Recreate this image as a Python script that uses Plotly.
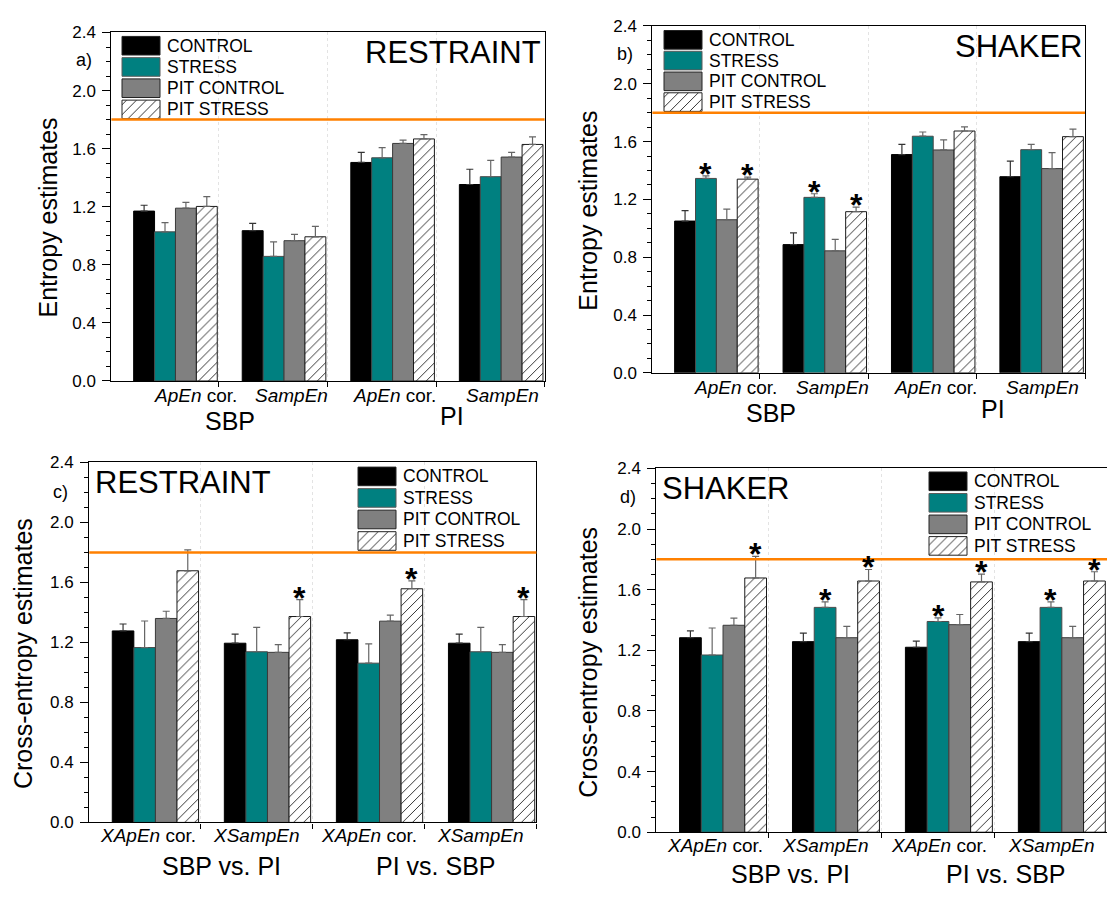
import plotly.graph_objects as go

W, H = 1107, 898
FONT = "Liberation Sans, Arial, sans-serif"

# ---------------- data ----------------
SERIES = ["CONTROL", "STRESS", "PIT CONTROL", "PIT STRESS"]
GROUPS = [1, 2, 3, 4]
ENTROPY_LABELS = ["<i>ApEn</i> cor.", "<i>SampEn</i>", "<i>ApEn</i> cor.", "<i>SampEn</i>"]
CROSS_LABELS = ["<i>XApEn</i> cor.", "<i>XSampEn</i>", "<i>XApEn</i> cor.", "<i>XSampEn</i>"]
ENTROPY_SIGNALS = ["SBP", "PI"]
CROSS_SIGNALS = ["SBP vs. PI", "PI vs. SBP"]
Y_TICKS = [0.0, 0.4, 0.8, 1.2, 1.6, 2.0, 2.4]
THRESHOLD = 1.8

# panel a) RESTRAINT, entropy
a_control = [1.17, 1.035, 1.505, 1.353]
a_control_err = [0.04, 0.05, 0.07, 0.105]
a_stress = [1.027, 0.858, 1.537, 1.407]
a_stress_err = [0.063, 0.10, 0.07, 0.112]
a_pit_control = [1.19, 0.966, 1.636, 1.542]
a_pit_control_err = [0.04, 0.043, 0.022, 0.033]
a_pit_stress = [1.202, 0.993, 1.667, 1.629]
a_pit_stress_err = [0.068, 0.072, 0.03, 0.052]
a_stars = []

# panel b) SHAKER, entropy
b_control = [1.05, 0.887, 1.51, 1.357]
b_control_err = [0.072, 0.081, 0.07, 0.108]
b_stress = [1.345, 1.214, 1.637, 1.544]
b_stress_err = [0.018, 0.025, 0.029, 0.036]
b_pit_control = [1.059, 0.844, 1.542, 1.413]
b_pit_control_err = [0.074, 0.079, 0.07, 0.111]
b_pit_stress = [1.34, 1.115, 1.673, 1.634]
b_pit_stress_err = [0.014, 0.032, 0.029, 0.052]
b_stars = [(0, 1), (0, 3), (1, 1), (1, 3)]

# panel c) RESTRAINT, cross-entropy
c_control = [1.277, 1.195, 1.218, 1.195]
c_control_err = [0.046, 0.06, 0.046, 0.06]
c_stress = [1.166, 1.138, 1.062, 1.138]
c_stress_err = [0.177, 0.163, 0.128, 0.163]
c_pit_control = [1.36, 1.134, 1.342, 1.134]
c_pit_control_err = [0.048, 0.052, 0.04, 0.052]
c_pit_stress = [1.678, 1.373, 1.558, 1.373]
c_pit_stress_err = [0.139, 0.113, 0.052, 0.113]
c_stars = [(1, 3), (2, 3), (3, 3)]

# panel d) SHAKER, cross-entropy
d_control = [1.283, 1.257, 1.22, 1.257]
d_control_err = [0.045, 0.056, 0.041, 0.056]
d_stress = [1.169, 1.483, 1.39, 1.483]
d_stress_err = [0.178, 0.037, 0.024, 0.037]
d_pit_control = [1.365, 1.283, 1.369, 1.283]
d_pit_control_err = [0.047, 0.075, 0.067, 0.075]
d_pit_stress = [1.677, 1.657, 1.651, 1.657]
d_pit_stress_err = [0.142, 0.076, 0.052, 0.061]
d_stars = [(0, 3), (1, 1), (1, 3), (2, 1), (2, 3), (3, 1), (3, 3)]

# ---------------- styles ----------------
FILL = ["#000000", "#008080", "#808080", "#ffffff"]
EDGE = ["#000000", "#4a4a4a", "#3a3a3a", "#1a1a1a"]
ERRC = ["#333333", "#666666", "#666666", "#666666"]
HATCH = ["", "", "", "/"]
ORANGE = "#FF8000"
BARGAP = 0.23
NSER = 4


def px2x(p):
    return p / W


def px2y(p):
    return 1 - p / H


panels = [
    dict(tag="a)", title="RESTRAINT", ylab="Entropy estimates",
         data=[(a_control, a_control_err), (a_stress, a_stress_err),
               (a_pit_control, a_pit_control_err), (a_pit_stress, a_pit_stress_err)],
         stars=a_stars, box=(111.4, 544.6, 24, 380),
         labels=ENTROPY_LABELS, label_x=[1.18, 2.07, 3.02, 4.01], label_dy=15,
         signals=ENTROPY_SIGNALS, signal_x=[1.5, 3.55], signal_dy=[40, 35],
         letter=(84, 52.5), title_pos=(363, 44), ylab_pos=(48, 213),
         legend=(122, 28, 21.7), mirror_y=True),
    dict(tag="b)", title="SHAKER", ylab="Entropy estimates",
         data=[(b_control, b_control_err), (b_stress, b_stress_err),
               (b_pit_control, b_pit_control_err), (b_pit_stress, b_pit_stress_err)],
         stars=b_stars, box=(652.4, 1085, 17.3, 371.7),
         labels=ENTROPY_LABELS, label_x=[1.18, 2.07, 3.02, 4.01], label_dy=15,
         signals=ENTROPY_SIGNALS, signal_x=[1.5, 3.55], signal_dy=[40, 36],
         letter=(625, 45.5), title_pos=(953, 38), ylab_pos=(588, 206),
         legend=(664, 22, 21.2), mirror_y=True),
    dict(tag="c)", title="RESTRAINT", ylab="Cross-entropy estimates",
         data=[(c_control, c_control_err), (c_stress, c_stress_err),
               (c_pit_control, c_pit_control_err), (c_pit_stress, c_pit_stress_err)],
         stars=c_stars, box=(89.3, 536.4, 463.3, 831),
         labels=CROSS_LABELS, label_x=[0.93, 1.905, 2.91, 3.905], label_dy=13,
         signals=CROSS_SIGNALS, signal_x=[1.59, 3.5], signal_dy=[44, 44],
         letter=(60, 493), title_pos=(93, 484), ylab_pos=(23, 659),
         legend=(358, 468, 22), mirror_y=True),
    dict(tag="d)", title="SHAKER", ylab="Cross-entropy estimates",
         data=[(d_control, d_control_err), (d_stress, d_stress_err),
               (d_pit_control, d_pit_control_err), (d_pit_stress, d_pit_stress_err)],
         stars=d_stars, box=(656.4, 1107, 469.3, 841),
         labels=CROSS_LABELS, label_x=[0.93, 1.905, 2.91, 3.91], label_dy=13,
         signals=CROSS_SIGNALS, signal_x=[1.595, 3.5], signal_dy=[42, 42],
         letter=(627.5, 498.5), title_pos=(660, 490), ylab_pos=(588, 668),
         legend=(929, 473, 22.0), mirror_y=False),
]

fig = go.Figure()
annotations = []
shapes = []
layout = dict(
    width=W, height=H, margin=dict(l=0, r=0, t=0, b=0),
    paper_bgcolor="white", plot_bgcolor="rgba(0,0,0,0)",
    barmode="group", bargap=BARGAP, bargroupgap=0,
    showlegend=False, font=dict(family=FONT, color="black"),
)

bar_w = (1 - BARGAP) / NSER

for k, p in enumerate(panels, start=1):
    xa = "x" if k == 1 else f"x{k}"
    ya = "y" if k == 1 else f"y{k}"
    xkey = "xaxis" if k == 1 else f"xaxis{k}"
    ykey = "yaxis" if k == 1 else f"yaxis{k}"
    x0, x1, y0, y1 = p["box"]
    layout[xkey] = dict(
        domain=[px2x(x0), min(1.0, px2x(x1))], anchor=ya,
        range=[0.41, 4.4], tickvals=[1.4, 2.4, 3.4, 4.4], showticklabels=False,
        ticks="outside", ticklen=5, tickcolor="black", tickwidth=1,
        showline=True, linecolor="black", linewidth=1.3, mirror=True,
        showgrid=True, gridcolor="#e3e3e3", griddash="dot", gridwidth=1,
        zeroline=False, fixedrange=True,
    )
    layout[ykey] = dict(
        domain=[px2y(y1), px2y(y0)], anchor=xa,
        range=[0, 2.4], tickvals=Y_TICKS, tickformat=".1f",
        ticks="outside", ticklen=8, tickcolor="black", tickwidth=1,
        ticklabelstandoff=3,
        minor=dict(dtick=0.1, tick0=0, ticks="outside", ticklen=4, tickcolor="black"),
        showline=True, linecolor="black", linewidth=1.3, mirror=p["mirror_y"],
        showgrid=False, zeroline=False, fixedrange=True,
        tickfont=dict(size=17, family=FONT, color="black"),
    )
    for i, (vals, errs) in enumerate(p["data"]):
        fig.add_trace(go.Bar(
            x=GROUPS, y=vals, name=SERIES[i], xaxis=xa, yaxis=ya,
            marker=dict(color=FILL[i], line=dict(color=EDGE[i], width=1),
                        pattern=dict(shape=HATCH[i], fgcolor="#222222", bgcolor=FILL[i],
                                     size=7, solidity=0.13, fillmode="replace")),
            error_y=dict(type="data", array=errs, arrayminus=[0] * len(errs),
                         symmetric=False, color=ERRC[i], thickness=1.2, width=3.5),
            showlegend=False, hoverinfo="skip",
        ))
    # stars
    for (g, s) in p["stars"]:
        vals, errs = p["data"][s]
        annotations.append(dict(
            x=GROUPS[g] + (s - (NSER - 1) / 2) * bar_w, y=vals[g] + errs[g],
            xref=xa, yref=ya, text="<b>*</b>", showarrow=False,
            xanchor="center", yanchor="middle", yshift=2,
            font=dict(size=32, family=FONT, color="black"),
        ))
    # threshold line
    shapes.append(dict(type="line", xref=f"{xa} domain", yref=ya, x0=0, x1=1,
                       y0=THRESHOLD, y1=THRESHOLD,
                       line=dict(color=ORANGE, width=2.5), layer="above"))
    # category labels
    for lab, lx in zip(p["labels"], p["label_x"]):
        annotations.append(dict(
            x=lx, y=0, xref=xa, yref=f"{ya} domain", text=lab, showarrow=False,
            xanchor="center", yanchor="middle", yshift=-p["label_dy"],
            font=dict(size=19, family=FONT, color="black"),
        ))
    for sig, sx, sdy in zip(p["signals"], p["signal_x"], p["signal_dy"]):
        annotations.append(dict(
            x=sx, y=0, xref=xa, yref=f"{ya} domain", text=sig, showarrow=False,
            xanchor="center", yanchor="middle", yshift=-sdy,
            font=dict(size=25, family=FONT, color="black"),
        ))
    # panel letter, title, y-axis label
    annotations.append(dict(
        x=px2x(p["letter"][0]), y=px2y(p["letter"][1]), xref="paper", yref="paper",
        text=p["tag"], showarrow=False, xanchor="center", yanchor="middle",
        font=dict(size=18, family=FONT, color="black")))
    annotations.append(dict(
        x=px2x(p["title_pos"][0]), y=px2y(p["title_pos"][1]), xref="paper", yref="paper",
        text=p["title"], showarrow=False, xanchor="left", yanchor="middle",
        font=dict(size=31, family=FONT, color="black")))
    annotations.append(dict(
        x=px2x(p["ylab_pos"][0]), y=px2y(p["ylab_pos"][1]), xref="paper", yref="paper",
        text=p["ylab"], showarrow=False, xanchor="center", yanchor="middle",
        textangle=-90, font=dict(size=25, family=FONT, color="black")))
    # legend (swatches drawn on a pixel overlay axis, texts as annotations)
    lx, ly, pitch = p["legend"]
    bw, bh = 38, 19
    for i, name in enumerate(SERIES):
        top = ly + i * pitch
        xs = [lx, lx + bw, lx + bw, lx, lx]
        ys = [top, top, top + bh, top + bh, top]
        fig.add_trace(go.Scatter(
            x=xs, y=ys, xaxis="x5", yaxis="y5", mode="lines", fill="toself",
            fillcolor=FILL[i], line=dict(color="#222222" if i != 1 else "#5a5a5a", width=1),
            fillpattern=dict(shape=HATCH[i], fgcolor="#222222", bgcolor=FILL[i],
                             size=7, solidity=0.13, fillmode="replace") if HATCH[i] else None,
            showlegend=False, hoverinfo="skip",
        ))
        annotations.append(dict(
            x=px2x(lx + bw + 5), y=px2y(top + bh / 2), xref="paper", yref="paper",
            text=name, showarrow=False, xanchor="left", yanchor="middle",
            font=dict(size=17.5, family=FONT, color="black")))

layout["xaxis5"] = dict(domain=[0, 1], range=[0, W], visible=False, fixedrange=True, anchor="y5")
layout["yaxis5"] = dict(domain=[0, 1], range=[H, 0], visible=False, fixedrange=True, anchor="x5")
layout["annotations"] = annotations
layout["shapes"] = shapes
fig.update_layout(**layout)

fig.write_html("out.html")
